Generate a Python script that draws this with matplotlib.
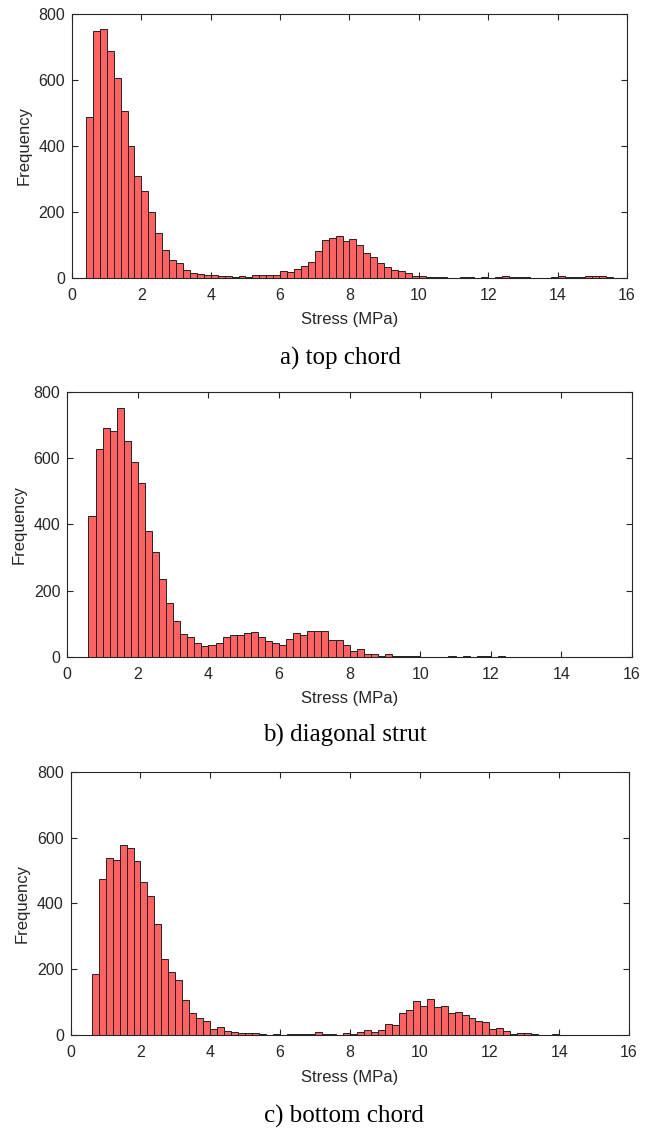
import matplotlib
matplotlib.use("Agg")
import matplotlib.pyplot as plt
import numpy as np

plt.rcParams["font.family"] = ["Liberation Sans", "DejaVu Sans"]

bin_width = 0.2

# a) top chord, bins start at 0.4
top_start = 0.4
top_counts = [487, 749, 754, 689, 607, 506, 400, 310, 264, 201,
              136, 86, 55, 45, 24, 15, 12, 9, 8, 6,
              6, 3, 6, 3, 10, 9, 9, 9, 21, 18,
              27, 35, 48, 83, 115, 120, 127, 112, 117, 100,
              77, 64, 45, 34, 24, 20, 15, 7, 5, 3,
              3, 3, 1, 0, 3, 3, 1, 3, 0, 3,
              5, 2, 3, 3, 1, 0, 0, 3, 5, 3,
              3, 3, 5, 5, 5, 2]

# b) diagonal strut, bins start at 0.6
diag_start = 0.6
diag_counts = [425, 628, 689, 680, 750, 652, 588, 526, 379, 317,
               234, 163, 107, 68, 60, 41, 33, 35, 41, 60,
               67, 65, 71, 74, 60, 48, 42, 36, 53, 72,
               66, 78, 78, 78, 51, 51, 35, 18, 24, 9,
               9, 3, 9, 2, 2, 4, 3, 0, 0, 0,
               0, 3, 1, 2, 1, 2, 2, 1, 2]

# c) bottom chord, bins start at 0.6
bot_start = 0.6
bot_counts = [186, 473, 538, 533, 576, 569, 530, 464, 424, 339,
              233, 192, 167, 107, 67, 51, 42, 18, 24, 13,
              10, 6, 6, 6, 5, 1, 3, 2, 3, 5,
              3, 5, 9, 5, 3, 2, 7, 5, 9, 15,
              9, 15, 35, 32, 69, 76, 104, 90, 111, 87,
              90, 69, 72, 62, 51, 42, 39, 20, 22, 14,
              5, 8, 8, 5, 2, 2, 5, 2, 0, 1,
              1, 1, 0, 1]

panels = [
    ("a) top chord", top_start, top_counts, [0.1101, 0.7538, 0.8486, 0.2338], 0.6825, 0.521),
    ("b) diagonal strut", diag_start, diag_counts, [0.1029, 0.4181, 0.8635, 0.2350], 0.3482, 0.527),
    ("c) bottom chord", bot_start, bot_counts, [0.1081, 0.0830, 0.8537, 0.2335], 0.0110, 0.526),
]

fig = plt.figure(figsize=(6.54, 11.29), dpi=100)
dark = "#262626"

for title, start, counts, rect, ty, tx in panels:
    ax = fig.add_axes(rect)
    lefts = start + bin_width * np.arange(len(counts))
    ax.bar(lefts, counts, width=bin_width, align="edge",
           color="#ff6262", edgecolor="#222222", linewidth=0.7)
    ax.set_xlim(0, 16)
    ax.set_ylim(0, 800)
    ax.set_xticks(np.arange(0, 17, 2))
    ax.set_yticks(np.arange(0, 801, 200))
    ax.tick_params(direction="in", top=True, right=True, length=4.5,
                   width=0.8, colors=dark, labelsize=11.5)
    ax.tick_params(axis="x", pad=7)
    ax.tick_params(axis="y", pad=5)
    for s in ax.spines.values():
        s.set_color(dark)
        s.set_linewidth(0.8)
    ax.set_xlabel("Stress (MPa)", fontsize=12, color=dark, labelpad=7)
    ax.set_ylabel("Frequency", fontsize=12, color=dark, labelpad=5)
    fig.text(tx, ty, title, ha="center", va="center", fontsize=18,
             family="Liberation Serif", color="black")

fig.savefig("out.png", dpi=100)
